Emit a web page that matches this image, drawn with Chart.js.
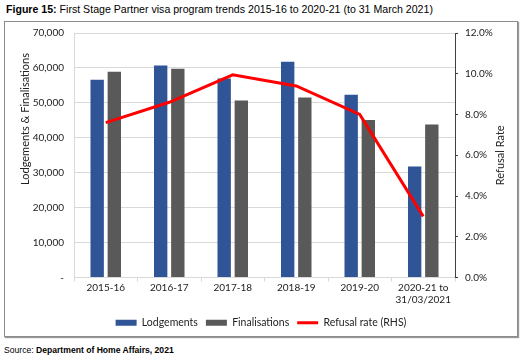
<!DOCTYPE html>
<html>
<head>
<meta charset="utf-8">
<script src="https://cdn.jsdelivr.net/npm/chart.js@4.4.1/dist/chart.umd.min.js"></script>
<style>
  body { margin: 0; background: #fff; width: 523px; height: 362px; position: relative; overflow: hidden; }
  .title { position: absolute; left: 6px; top: 3px; font: 10.6px "Liberation Sans", Arial, sans-serif; color: #000; white-space: nowrap; }
  .box { position: absolute; left: 4px; top: 21px; width: 512px; height: 314px; border: 1px solid #8c8c8c; box-shadow: 1px 1px 1px #999; }
  .source { position: absolute; left: 4px; top: 345px; font: 8.6px "Liberation Sans", Arial, sans-serif; color: #000; white-space: nowrap; }
  canvas { display: block; position: absolute; left: 0; top: 0; }
</style>
</head>
<body>
<div class="title"><b>Figure 15:</b> First Stage Partner visa program trends 2015-16 to 2020-21 (to 31 March 2021)</div>
<div class="box"><canvas id="chart" width="512" height="316"></canvas></div>
<div class="source">Source: <b>Department of Home Affairs, 2021</b></div>
<script>
const categories = ['2015-16', '2016-17', '2017-18', '2018-19', '2019-20', ['2020-21 to', '31/03/2021']];
const lodgements = [56600, 60700, 57000, 61800, 52300, 31800];
const finalisations = [58900, 59800, 50700, 51500, 45100, 43800];
const refusalRate = [7.6, 8.6, 9.95, 9.4, 8.0, 3.0];
const leftTicks = [0, 10000, 20000, 30000, 40000, 50000, 60000, 70000];
const rightTicks = [0, 2, 4, 6, 8, 10, 12];
const leftTitle = 'Lodgements & Finalisations';
const rightTitle = 'Refusal Rate';

const FONT = 'Lato, "Open Sans", sans-serif';
const ctx = document.getElementById('chart').getContext('2d');

// axis titles, both read bottom-to-top like the original
const axisTitles = {
  id: 'axisTitles',
  afterDraw(chart) {
    const c = chart.ctx;
    const area = chart.chartArea;
    c.save();
    c.fillStyle = '#222';
    c.font = '11px ' + FONT;
    c.textAlign = 'center';
    c.textBaseline = 'middle';
    c.translate(20, 97);
    c.rotate(-Math.PI / 2);
    c.fillText(leftTitle, 0, 0);
    c.restore();
    c.save();
    c.fillStyle = '#222';
    c.font = '11px ' + FONT;
    c.textAlign = 'center';
    c.textBaseline = 'middle';
    c.translate(495, (area.top + area.bottom) / 2);
    c.rotate(-Math.PI / 2);
    c.fillText(rightTitle, 0, 0);
    c.restore();
  }
};

new Chart(ctx, {
  type: 'bar',
  data: {
    labels: categories,
    datasets: [
      {
        label: 'Lodgements',
        data: lodgements,
        backgroundColor: '#2F5597',
        yAxisID: 'y',
        pointStyle: 'rect',
        categoryPercentage: 0.54,
        barPercentage: 0.78
      },
      {
        label: 'Finalisations',
        data: finalisations,
        backgroundColor: '#595959',
        yAxisID: 'y',
        pointStyle: 'rect',
        categoryPercentage: 0.54,
        barPercentage: 0.78
      },
      {
        type: 'line',
        label: 'Refusal rate (RHS)',
        data: refusalRate,
        borderColor: '#FF0000',
        backgroundColor: '#FF0000',
        borderWidth: 3,
        pointRadius: 0,
        pointStyle: 'line',
        tension: 0,
        yAxisID: 'y1',
        order: -1
      }
    ]
  },
  options: {
    responsive: false,
    animation: false,
    layout: { padding: { top: 11, left: 0, right: 0, bottom: 0 } },
    scales: {
      x: {
        grid: { display: true, drawOnChartArea: false, color: '#d9d9d9', tickLength: 4, offset: true },
        border: { color: '#d9d9d9' },
        ticks: { color: '#222', font: { family: FONT, size: 10 }, padding: 0, maxRotation: 0, autoSkip: false },
        afterFit: s => { s.height = 32; }
      },
      y: {
        position: 'left',
        min: 0,
        max: 70000,
        afterBuildTicks: s => { s.ticks = leftTicks.map(v => ({ value: v })); },
        ticks: {
          color: '#222',
          font: { family: FONT, size: 10 },
          padding: 10,
          callback: v => v === 0 ? '-' : v.toLocaleString('en-US')
        },
        grid: { color: '#d9d9d9', drawTicks: false },
        border: { color: '#d9d9d9' },
        afterFit: s => { s.width = 69; s.paddingTop = 0; s.paddingBottom = 0; }
      },
      y1: {
        position: 'right',
        min: 0,
        max: 12,
        afterBuildTicks: s => { s.ticks = rightTicks.map(v => ({ value: v })); },
        ticks: {
          color: '#222',
          font: { family: FONT, size: 10 },
          padding: 7,
          callback: v => v.toFixed(1) + '%'
        },
        grid: { drawOnChartArea: false, color: '#404040', tickLength: 3 },
        border: { color: '#404040' },
        afterFit: s => { s.width = 62; s.paddingTop = 0; s.paddingBottom = 0; }
      }
    },
    plugins: {
      tooltip: { enabled: false },
      legend: {
        position: 'bottom',
        labels: {
          usePointStyle: true,
          pointStyleWidth: 21,
          boxHeight: 6,
          padding: 8,
          color: '#222',
          font: { family: FONT, size: 10.5 },
          sort: (a, b) => a.datasetIndex - b.datasetIndex
        }
      }
    }
  },
  plugins: [axisTitles]
});
</script>
</body>
</html>
